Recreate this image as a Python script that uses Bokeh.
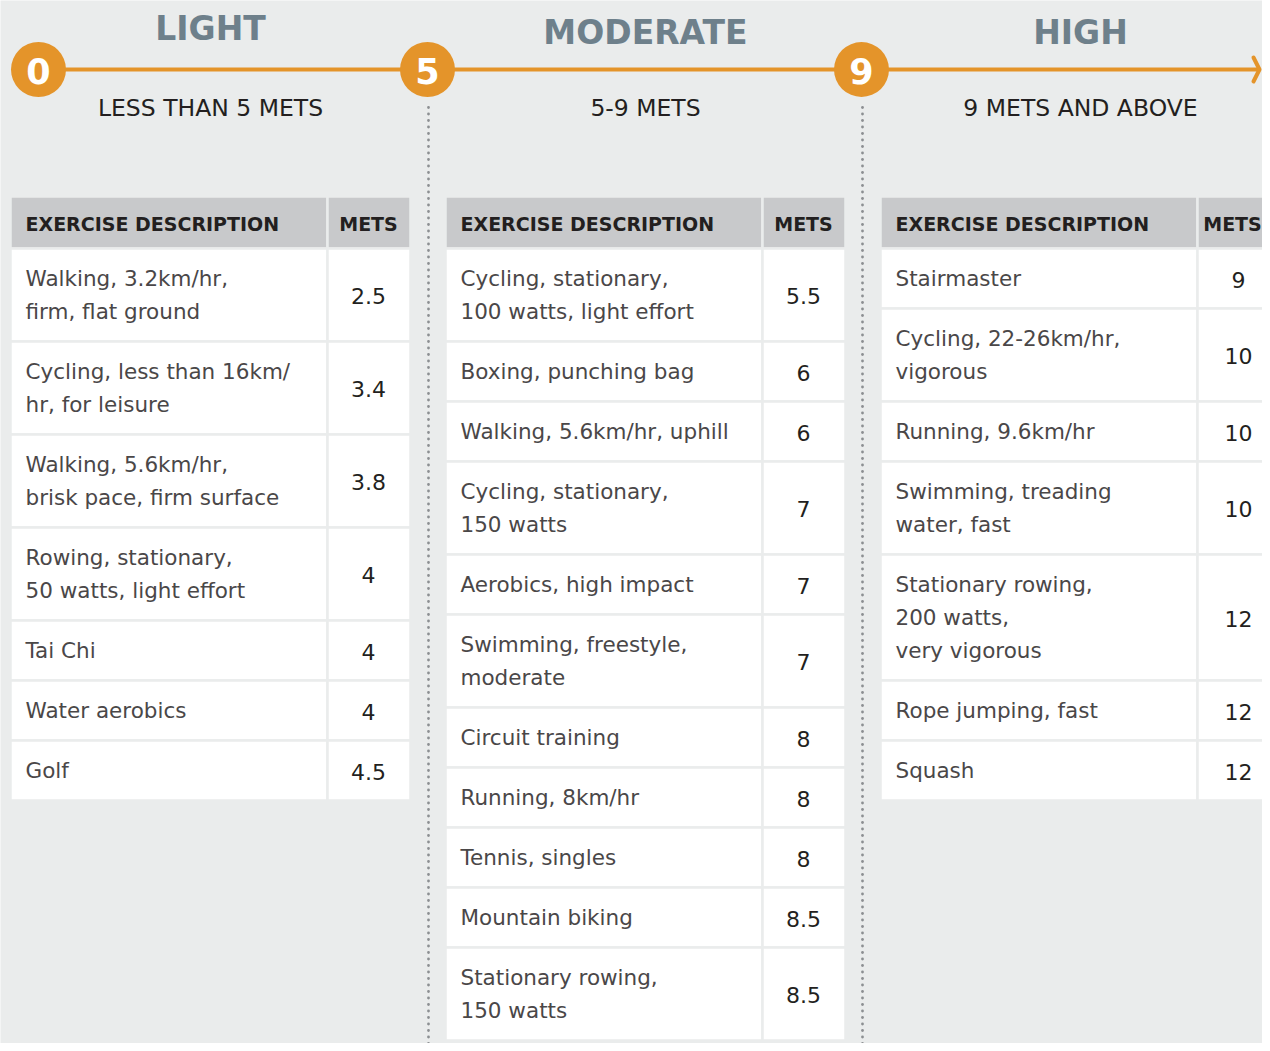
import numpy as np
from bokeh.plotting import figure
from bokeh.models import Range1d
from bokeh.core.properties import value
from bokeh.embed import file_html
from bokeh.resources import INLINE

# ---------------- data ----------------
levels = ["LIGHT", "MODERATE", "HIGH"]
thresholds = [0, 5, 9]
range_labels = ["LESS THAN 5 METS", "5-9 METS", "9 METS AND ABOVE"]
header_labels = ["EXERCISE DESCRIPTION", "METS"]

light_desc = ["Walking, 3.2km/hr,\nfirm, flat ground",
              "Cycling, less than 16km/\nhr, for leisure",
              "Walking, 5.6km/hr,\nbrisk pace, firm surface",
              "Rowing, stationary,\n50 watts, light effort",
              "Tai Chi", "Water aerobics", "Golf"]
light_mets = [2.5, 3.4, 3.8, 4, 4, 4, 4.5]

moderate_desc = ["Cycling, stationary,\n100 watts, light effort",
                 "Boxing, punching bag",
                 "Walking, 5.6km/hr, uphill",
                 "Cycling, stationary,\n150 watts",
                 "Aerobics, high impact",
                 "Swimming, freestyle,\nmoderate",
                 "Circuit training", "Running, 8km/hr", "Tennis, singles",
                 "Mountain biking",
                 "Stationary rowing,\n150 watts"]
moderate_mets = [5.5, 6, 6, 7, 7, 7, 8, 8, 8, 8.5, 8.5]

high_desc = ["Stairmaster",
             "Cycling, 22-26km/hr,\nvigorous",
             "Running, 9.6km/hr",
             "Swimming, treading\nwater, fast",
             "Stationary rowing,\n200 watts,\nvery vigorous",
             "Rope jumping, fast", "Squash"]
high_mets = [9, 10, 10, 10, 12, 12, 12]

tables = [(light_desc, light_mets), (moderate_desc, moderate_mets), (high_desc, high_mets)]

# ---------------- style / layout ----------------
BG = "#eaecec"
HEAD = "#c8c9cb"
ORANGE = "#e4942a"
TITLE_C = "#6e808b"
DARK = "#231f20"
CELL_TXT = "#4a4748"
FONT = "DejaVu Sans"

W, H = 1262, 1043
p = figure(width=W, height=H, output_backend="svg", toolbar_location=None,
           x_range=Range1d(0, W), y_range=Range1d(H, 0),
           min_border=0, background_fill_color=BG, border_fill_color=BG)
p.axis.visible = False
p.grid.visible = False
p.outline_line_color = None

col_x = [10, 445, 880]
desc_w, mets_w = 317, 83
head_top, head_bot = 196, 248
circle_x = [38, 427, 861]
title_x = [210, 645, 1080]
title_y = [28, 32, 32]
mets_head_dx = [41, 41, 35]

# timeline
p.segment(x0=[circle_x[0]], y0=[69], x1=[1259], y1=[69], line_color=ORANGE, line_width=4)
p.multi_line(xs=[[1253, 1259, 1253]], ys=[[57, 69, 81]], line_color=ORANGE, line_width=4,
             line_cap="round", line_join="round")
# dotted separators
dot_y = np.arange(107, 1050, 6.5)
for cx in circle_x[1:]:
    p.scatter(x=np.full(len(dot_y), cx + 1.0), y=dot_y, size=2.8, marker="circle",
              fill_color="#8c8f92", line_color=None)
p.scatter(x=circle_x, y=[69] * 3, size=55, marker="circle", fill_color=ORANGE, line_color=None)
p.text(x=circle_x, y=[70] * 3, text=[str(t) for t in thresholds], text_color="white",
       text_font=value(FONT), text_font_style="bold", text_font_size="35px",
       text_align="center", text_baseline="middle")
p.text(x=title_x, y=title_y, text=levels, text_color=TITLE_C, text_font=value(FONT),
       text_font_style="bold", text_font_size="33px", text_align="center", text_baseline="middle")
p.text(x=title_x, y=[107] * 3, text=range_labels, text_color=DARK, text_font=value(FONT),
       text_font_size="23.5px", text_align="center", text_baseline="middle")

# tables
for (desc, mets), x0, mdx in zip(tables, col_x, mets_head_dx):
    xm = x0 + desc_w
    xr = xm + mets_w
    p.quad(left=[x0, xm], right=[xm, xr], top=[head_top] * 2, bottom=[head_bot] * 2,
           fill_color=HEAD, line_color=BG, line_width=2.5)
    p.text(x=[x0 + 15, xm + mdx], y=[223, 223], text=header_labels, text_color=DARK,
           text_font=value(FONT), text_font_style="bold", text_font_size="19px",
           text_align=["left", "center"], text_baseline="middle")
    top = head_bot
    lefts, rights, tops, bots = [], [], [], []
    lx, ly, lt = [], [], []
    nx, ny, nt = [], [], []
    for d, m in zip(desc, mets):
        lines = d.split("\n")
        h = 27 + 33 * len(lines)
        lefts += [x0, xm]; rights += [xm, xr]; tops += [top, top]; bots += [top + h, top + h]
        for i, ln in enumerate(lines):
            lx.append(x0 + 15); ly.append(top + 30 + 33 * i); lt.append(ln)
        nx.append(xm + 41); ny.append(top + h / 2 + 1); nt.append(f"{m:g}")
        top += h
    p.quad(left=lefts, right=rights, top=tops, bottom=bots, fill_color="white",
           line_color=BG, line_width=2.5)
    p.text(x=lx, y=ly, text=lt, text_color=CELL_TXT, text_font=value(FONT),
           text_font_size="21.5px", text_align="left", text_baseline="middle")
    p.text(x=nx, y=ny, text=nt, text_color=DARK, text_font=value(FONT),
           text_font_size="22px", text_align="center", text_baseline="middle")

open("out.html", "w").write(file_html(p, INLINE))
